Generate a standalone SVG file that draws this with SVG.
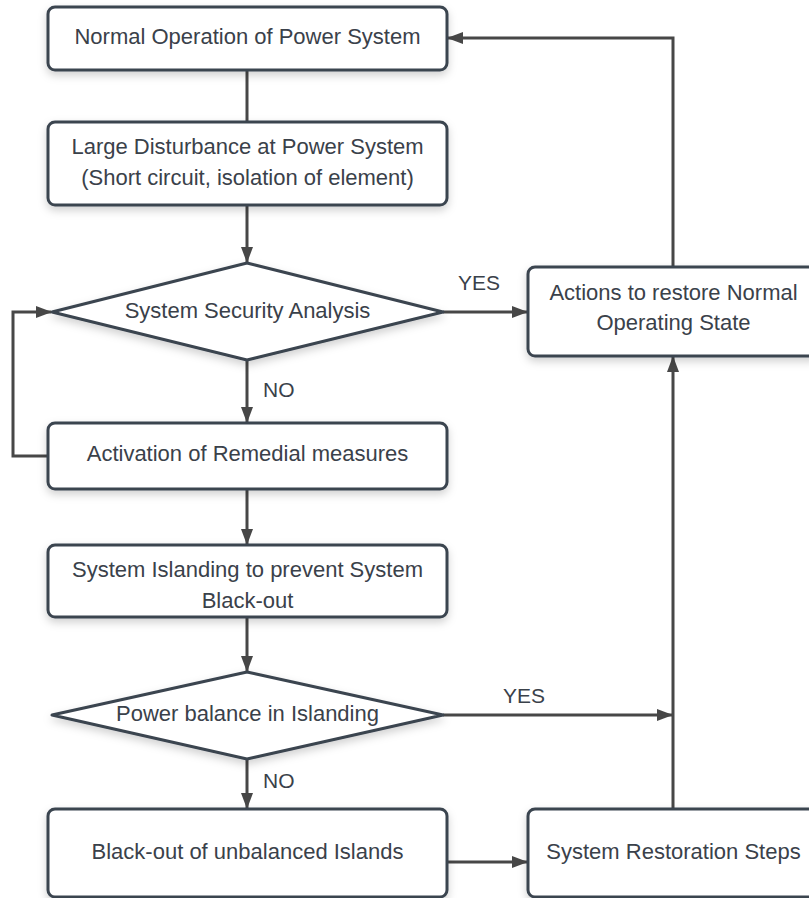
<svg xmlns="http://www.w3.org/2000/svg" width="809" height="898" viewBox="0 0 809 898">
  <style>
    .box { fill: #ffffff; stroke: #3b4450; stroke-width: 3; filter: url(#shadow); }
    .lbl { font-family: "Liberation Sans", Arial, sans-serif; font-size: 22px; fill: #3a414a; text-anchor: middle; }
    .edge { fill: none; stroke: #474747; stroke-width: 3; }
    .tag { font-family: "Liberation Sans", Arial, sans-serif; font-size: 21px; fill: #3a414a; }
  </style>
  <defs>
    <filter id="shadow" x="-10%" y="-20%" width="120%" height="160%">
      <feDropShadow dx="0" dy="4" stdDeviation="4" flood-color="#000000" flood-opacity="0.18"/>
    </filter>
    <marker id="arrow" viewBox="0 0 16 12" refX="15" refY="6" markerWidth="16" markerHeight="12" markerUnits="userSpaceOnUse" orient="auto">
      <path d="M0,0 L16,6 L0,12 Z" fill="#474747"/>
    </marker>
  </defs>

  <rect width="809" height="898" fill="#ffffff"/>

  <!-- connectors -->
  <g id="connectors">
    <path class="edge" d="M247,70 L247,122"/>
    <path class="edge" d="M247,205 L247,262" marker-end="url(#arrow)"/>
    <path class="edge" d="M443,312 L527,312" marker-end="url(#arrow)"/>
    <path class="edge" d="M247,360 L247,422" marker-end="url(#arrow)"/>
    <path class="edge" d="M48,456 L13,456 L13,312 L51,312" marker-end="url(#arrow)"/>
    <path class="edge" d="M247,489 L247,544" marker-end="url(#arrow)"/>
    <path class="edge" d="M247,617 L247,671" marker-end="url(#arrow)"/>
    <path class="edge" d="M443,715 L672,715" marker-end="url(#arrow)"/>
    <path class="edge" d="M247,759 L247,808" marker-end="url(#arrow)"/>
    <path class="edge" d="M447,862 L527,862" marker-end="url(#arrow)"/>
    <path class="edge" d="M673,809 L673,357" marker-end="url(#arrow)"/>
    <path class="edge" d="M673,267 L673,38 L448,38" marker-end="url(#arrow)"/>
    <text class="tag" x="458" y="290">YES</text>
    <text class="tag" x="263" y="397">NO</text>
    <text class="tag" x="503" y="703">YES</text>
    <text class="tag" x="263" y="788">NO</text>
  </g>

  <g id="normal-operation">
    <rect class="box" x="48" y="7" width="399" height="63" rx="7"/>
    <text class="lbl" x="247.5" y="44">Normal Operation of Power System</text>
  </g>

  <g id="large-disturbance">
    <rect class="box" x="48" y="122" width="399" height="83" rx="7"/>
    <text class="lbl" x="247.5" y="154">Large Disturbance at Power System</text>
    <text class="lbl" x="247.5" y="185">(Short circuit, isolation of element)</text>
  </g>

  <g id="security-analysis">
    <path class="box" d="M247,263 L443,312 L247,360 L52,312 Z" stroke-linejoin="round"/>
    <text class="lbl" x="247.5" y="318">System Security Analysis</text>
  </g>

  <g id="remedial-measures">
    <rect class="box" x="48" y="423" width="399" height="66" rx="7"/>
    <text class="lbl" x="247.5" y="461">Activation of Remedial measures</text>
  </g>

  <g id="system-islanding">
    <rect class="box" x="48" y="545" width="399" height="72" rx="7"/>
    <text class="lbl" x="247.5" y="577">System Islanding to prevent System</text>
    <text class="lbl" x="247.5" y="608">Black-out</text>
  </g>

  <g id="power-balance">
    <path class="box" d="M247,672 L443,715 L247,759 L52,715 Z" stroke-linejoin="round"/>
    <text class="lbl" x="247.5" y="721">Power balance in Islanding</text>
  </g>

  <g id="blackout-islands">
    <rect class="box" x="48" y="809" width="399" height="88" rx="7"/>
    <text class="lbl" x="247.5" y="859">Black-out of unbalanced Islands</text>
  </g>

  <g id="restore-actions">
    <rect class="box" x="528" y="267" width="291" height="89" rx="7"/>
    <text class="lbl" x="673.5" y="300">Actions to restore Normal</text>
    <text class="lbl" x="673.5" y="330">Operating State</text>
  </g>

  <g id="restoration-steps">
    <rect class="box" x="528" y="809" width="291" height="88" rx="7"/>
    <text class="lbl" x="673.5" y="859">System Restoration Steps</text>
  </g>
</svg>
